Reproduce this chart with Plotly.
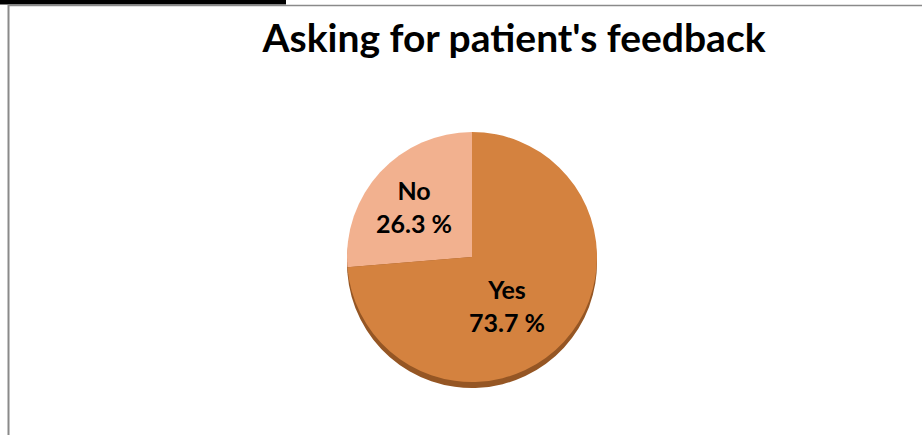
import plotly.graph_objects as go

# Survey answers and their share of respondents (%)
answers = ["No", "Yes"]
shares = [26.3, 73.7]
slice_colors = ["#F2B18F", "#D4823F"]
rim_color = "#955624"

W, H = 922, 435


def px_x(x):
    return x / W


def px_y(y):
    return 1 - y / H


cx, cy, r = 472, 257, 125
rim_drop = 6
label_font = dict(family="Lato, 'Open Sans', sans-serif", size=25, color="#000000")

# turn the pie so the "No" slice ends at 12 o'clock, sitting on the upper left
start_angle = -shares[0] / sum(shares) * 360

fig = go.Figure()

# darker copy behind the face gives the pie its thin 3D rim
fig.add_trace(go.Pie(
    labels=answers, values=shares, sort=False, direction="clockwise",
    rotation=start_angle,
    marker=dict(colors=[rim_color, rim_color], line=dict(width=0)),
    textinfo="none", hoverinfo="skip", showlegend=False,
    domain=dict(x=[px_x(cx - r), px_x(cx + r)],
                y=[px_y(cy + r + rim_drop), px_y(cy - r + rim_drop)]),
))

fig.add_trace(go.Pie(
    labels=answers, values=shares, sort=False, direction="clockwise",
    rotation=start_angle,
    marker=dict(colors=slice_colors, line=dict(width=0)),
    textinfo="none", showlegend=False,
    hovertemplate="%{label}: %{value:.1f} %<extra></extra>",
    domain=dict(x=[px_x(cx - r), px_x(cx + r)],
                y=[px_y(cy + r), px_y(cy - r)]),
))

# slice labels, written from the same values as the slices
label_spots = {"No": (414, 206), "Yes": (507, 305)}
annotations = []
for name, share in zip(answers, shares):
    lx, ly = label_spots[name]
    annotations.append(dict(
        x=px_x(lx), y=px_y(ly), xref="paper", yref="paper",
        xanchor="center", yanchor="middle", showarrow=False,
        text=f"<b>{name}<br>{share:.1f} %</b>", font=label_font,
    ))

shapes = [
    # black strip along the top-left edge
    dict(type="rect", xref="paper", yref="paper",
         x0=0, x1=px_x(286), y0=px_y(4.5), y1=1,
         fillcolor="#000000", line=dict(width=0)),
    # chart frame: top and left edges
    dict(type="line", xref="paper", yref="paper",
         x0=px_x(8), x1=1, y0=px_y(5.5), y1=px_y(5.5),
         line=dict(color="#8A8A8A", width=1.5)),
    dict(type="line", xref="paper", yref="paper",
         x0=px_x(8.5), x1=px_x(8.5), y0=px_y(5), y1=0,
         line=dict(color="#8A8A8A", width=2)),
]

fig.update_layout(
    width=W, height=H,
    margin=dict(l=0, r=0, t=0, b=0),
    paper_bgcolor="#FFFFFF",
    plot_bgcolor="#FFFFFF",
    shapes=shapes,
    annotations=annotations,
    title=dict(
        text="<b>Asking for patient's feedback</b>",
        x=px_x(514), xanchor="center",
        y=px_y(38), yanchor="middle",
        font=dict(family="Lato, 'Open Sans', sans-serif", size=39, color="#000000"),
    ),
)

fig.write_html("out.html")
